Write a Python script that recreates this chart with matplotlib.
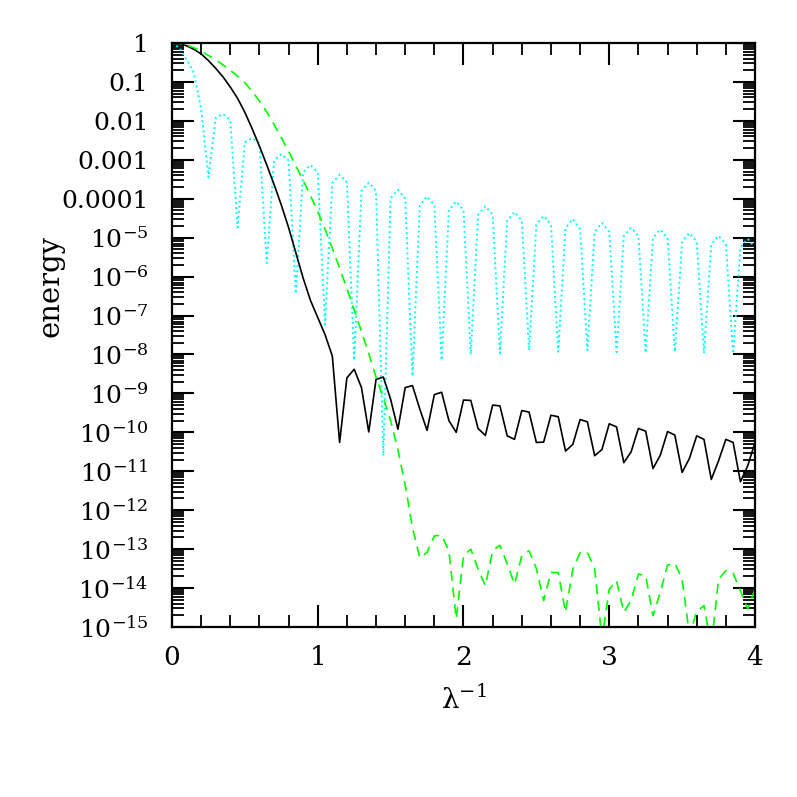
import matplotlib
matplotlib.use("Agg")
import matplotlib.pyplot as plt
import numpy as np
from matplotlib.ticker import LogLocator, MultipleLocator, FuncFormatter, NullFormatter

plt.rcParams['font.family'] = ['DejaVu Serif']
plt.rcParams['mathtext.fontset'] = 'dejavuserif'

# sampling in lambda^-1 (step 0.05, 0..4)
x = np.linspace(0.0, 4.0, 81)

# log10(energy), one value per sample
black_log = [0.00, -0.02, -0.07, -0.16, -0.28, -0.45, -0.65, -0.87, -1.13, -1.42,
             -1.78, -2.20, -2.65, -3.13, -3.63, -4.16, -4.74, -5.39, -6.04, -6.61,
             -7.05, -7.49, -8.04, -10.26, -8.60, -8.38, -8.85, -9.99, -8.64, -8.58,
             -9.15, -9.92, -8.85, -8.80, -9.40, -9.95, -9.03, -8.97, -9.70, -10.00,
             -9.17, -9.18, -9.90, -10.08, -9.30, -9.32, -10.09, -10.18, -9.44, -9.48,
             -10.26, -10.25, -9.56, -9.60, -10.48, -10.31, -9.67, -9.73, -10.60, -10.44,
             -9.78, -9.86, -10.78, -10.50, -9.90, -9.97, -10.93, -10.59, -9.98, -10.07,
             -11.03, -10.67, -10.09, -10.18, -11.21, -10.73, -10.18, -10.26, -11.27, -10.86,
             -10.26]

green_log = [0.00, -0.01, -0.05, -0.12, -0.21, -0.32, -0.43, -0.56, -0.70, -0.85,
             -1.02, -1.24, -1.49, -1.77, -2.09, -2.43, -2.78, -3.16, -3.53, -3.92,
             -4.33, -4.78, -5.27, -5.78, -6.31, -6.85, -7.41, -7.98, -8.58, -9.12,
             -9.70, -10.45, -11.35, -12.45, -13.22, -13.08, -12.66, -12.64, -13.05, -14.79,
             -13.17, -13.00, -13.51, -13.94, -13.04, -12.90, -13.38, -13.90, -13.17, -13.04,
             -13.50, -14.32, -13.60, -13.60, -14.62, -13.51, -13.09, -13.09, -13.50, -15.30,
             -14.03, -13.81, -14.62, -14.32, -13.64, -13.68, -14.71, -14.11, -13.41, -13.36,
             -13.77, -15.20, -14.60, -14.45, -15.50, -13.77, -13.55, -13.62, -14.07, -14.54,
             -14.03]

cyan_log = [0.00, -0.12, -0.42, -0.76, -1.70, -3.45, -1.92, -1.82, -1.98, -4.74,
            -2.55, -2.44, -2.58, -5.65, -3.02, -2.85, -3.02, -6.44, -3.32, -3.13,
            -3.32, -7.23, -3.60, -3.38, -3.58, -8.15, -3.80, -3.58, -3.80, -10.60,
            -3.99, -3.77, -3.99, -8.56, -4.17, -3.94, -4.16, -8.15, -4.29, -4.07,
            -4.29, -8.00, -4.41, -4.19, -4.41, -7.97, -4.56, -4.34, -4.56, -7.89,
            -4.66, -4.44, -4.66, -7.93, -4.75, -4.52, -4.78, -7.89, -4.85, -4.62,
            -4.85, -7.94, -4.96, -4.74, -4.96, -7.96, -5.01, -4.79, -5.01, -7.93,
            -5.10, -4.88, -5.10, -7.97, -5.17, -4.95, -5.17, -7.98, -5.25, -5.03,
            -5.25]

black = 10.0 ** np.array(black_log)
green = 10.0 ** np.array(green_log)
cyan = 10.0 ** np.array(cyan_log)


def energy_label(v, pos):
    e = int(round(np.log10(v)))
    if e == 0:
        return '1'
    if e >= -4:
        return '0.' + '0' * (-e - 1) + '1'
    return r'$10^{%d}$' % e


fig = plt.figure(figsize=(7.97, 7.97), dpi=100)
ax = fig.add_axes([0.2158, 0.2133, 0.7315, 0.7327])

ax.plot(x, cyan, color='#00ffff', lw=1.4, dashes=(1.0, 1.6))
ax.plot(x, black, color='black', lw=1.2)
ax.plot(x, green, color='#00ff00', lw=1.2, dashes=(6.0, 4.0))

ax.set_yscale('log')
ax.set_xlim(0, 4)
ax.set_ylim(1e-15, 1.0)

ax.xaxis.set_major_locator(MultipleLocator(1))
ax.xaxis.set_minor_locator(MultipleLocator(0.2))
ax.yaxis.set_major_locator(LogLocator(base=10, numticks=100))
ax.yaxis.set_minor_locator(LogLocator(base=10, subs=np.arange(2, 10), numticks=100))
ax.yaxis.set_major_formatter(FuncFormatter(energy_label))
ax.yaxis.set_minor_formatter(NullFormatter())

ax.tick_params(which='both', direction='in', top=True, right=True, colors='black')
ax.tick_params(which='major', length=16, width=1.5)
ax.tick_params(which='minor', length=8.5, width=1.3)
ax.tick_params(axis='y', which='major', labelsize=18, pad=17)
ax.tick_params(axis='x', which='major', labelsize=19, pad=13)
for s in ax.spines.values():
    s.set_linewidth(1.6)

ax.set_xlabel('λ$^{-1}$', fontsize=20)
ax.xaxis.set_label_coords(0.5, -0.10)
ax.set_ylabel('energy', fontsize=21)
ax.yaxis.set_label_coords(-0.185, 0.584)

fig.savefig('out.png', dpi=100)
